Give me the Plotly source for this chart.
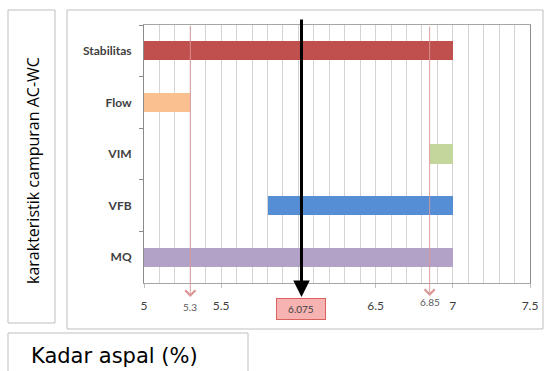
import plotly.graph_objects as go

# ---- data ----
categories = ["Stabilitas", "Flow", "VIM", "VFB", "MQ"]
range_start = [5.0, 5.0, 6.85, 5.8, 5.0]
range_end = [7.0, 5.3, 7.0, 7.0, 7.0]
bar_colors = ["#C0504D", "#FAC090", "#C3D69B", "#558ED5", "#B3A2C7"]
x_tick_vals = [5, 5.5, 6.5, 7, 7.5]
x_tick_text = ["5", "5.5", "6.5", "7", "7.5"]
limit_values = [5.3, 6.85]
limit_labels = ["5.3", "6.85"]
optimum_position = 6.02
optimum_label = "6.075"
y_title = "karakteristik campuran AC-WC"
x_title = "Kadar aspal (%)"

# ---- layout geometry (pixels) ----
W, H = 544, 371
L, R, T, B = 144, 14, 25, 88
PW = W - L - R
PH = H - T - B


def px_x(X):
    return (X - L) / PW


def px_y(Y):
    return (H - B - Y) / PH


FONT = "Lato"
TXT = "#404040"
GRID = "#D4D4D4"

fig = go.Figure()
fig.add_trace(go.Bar(
    y=categories,
    x=[e - s for s, e in zip(range_start, range_end)],
    base=range_start,
    orientation="h",
    marker=dict(color=bar_colors, line=dict(width=0)),
    width=0.37,
    hoverinfo="skip",
))

shapes = []
shapes.append(dict(type="rect", xref="paper", yref="paper",
                   x0=px_x(67), x1=px_x(543), y0=px_y(329), y1=px_y(10),
                   line=dict(color="#BFBFBF", width=1), layer="below"))
shapes.append(dict(type="rect", xref="paper", yref="paper",
                   x0=px_x(8), x1=px_x(55), y0=px_y(323), y1=px_y(10),
                   line=dict(color="#BFBFBF", width=1), layer="below"))
shapes.append(dict(type="rect", xref="paper", yref="paper",
                   x0=px_x(8), x1=px_x(248), y0=px_y(380), y1=px_y(333),
                   line=dict(color="#BFBFBF", width=1), layer="below"))

annotations = []
for v, lab, tip, ly in zip(limit_values, limit_labels, [297, 296], [307, 302]):
    annotations.append(dict(x=v, xref="x", y=px_y(tip), yref="paper",
                            ax=0, ay=-(tip - T), axref="pixel", ayref="pixel",
                            showarrow=True, arrowhead=4, arrowsize=2.2,
                            arrowwidth=0.9, arrowcolor="#D99694", text=""))
    annotations.append(dict(x=v, xref="x", y=px_y(ly), yref="paper",
                            xanchor="center", yanchor="middle",
                            text=lab, showarrow=False,
                            font=dict(family=FONT, size=10, color="#595959")))
annotations.append(dict(x=optimum_position, xref="x", y=px_y(297), yref="paper",
                        ax=0, ay=-(297 - 18), axref="pixel", ayref="pixel",
                        showarrow=True, arrowhead=2, arrowsize=1.1,
                        arrowwidth=3, arrowcolor="#000000", text=""))
annotations.append(dict(x=optimum_position, xref="x", y=px_y(309), yref="paper",
                        xanchor="center", yanchor="middle",
                        text=optimum_label, showarrow=False,
                        width=46, height=18, bgcolor="#F6B3B1",
                        bordercolor="#D9625F", borderwidth=1,
                        font=dict(family=FONT, size=10, color=TXT)))
annotations.append(dict(x=px_x(33), y=px_y(170), xref="paper", yref="paper",
                        xanchor="center", yanchor="middle",
                        text=y_title, textangle=-90, showarrow=False,
                        font=dict(family="Open Sans", size=16, color="#000000")))
annotations.append(dict(x=px_x(29), y=px_y(356), xref="paper", yref="paper",
                        xanchor="left", yanchor="middle",
                        text=x_title, showarrow=False,
                        font=dict(family="DejaVu Sans", size=21, color="#000000")))

fig.update_layout(
    width=W, height=H,
    autosize=False,
    margin=dict(l=L, r=R, t=T, b=B, pad=0, autoexpand=False),
    paper_bgcolor="white", plot_bgcolor="white",
    showlegend=False,
    bargap=0,
    shapes=shapes,
    annotations=annotations,
    xaxis=dict(
        range=[5, 7.5], automargin=False,
        tickmode="array", tickvals=x_tick_vals, ticktext=x_tick_text,
        showgrid=True, gridcolor=GRID, gridwidth=1,
        minor=dict(tickmode="linear", tick0=5, dtick=0.1,
                   showgrid=True, gridcolor=GRID, gridwidth=1),
        ticks="outside", ticklen=4, tickcolor="#BFBFBF",
        ticklabelstandoff=8,
        tickfont=dict(family=FONT, size=12, color=TXT),
        showline=True, linecolor="#A6A6A6", linewidth=1, mirror=True,
        zeroline=False, fixedrange=True,
    ),
    yaxis=dict(
        autorange="reversed", automargin=False,
        tickson="boundaries", ticks="outside", ticklen=4, tickcolor="#8C8C8C",
        showgrid=False,
        tickfont=dict(family=FONT, size=12, color=TXT, weight="bold"),
        showline=True, linecolor="#8C8C8C", linewidth=1, mirror=True,
        ticklabelstandoff=9,
        fixedrange=True,
    ),
)

fig.write_html(
    "out.html",
    config={"displayModeBar": False, "responsive": False},
    post_script="document.body.style.margin='0';document.body.style.overflow='hidden';",
)
